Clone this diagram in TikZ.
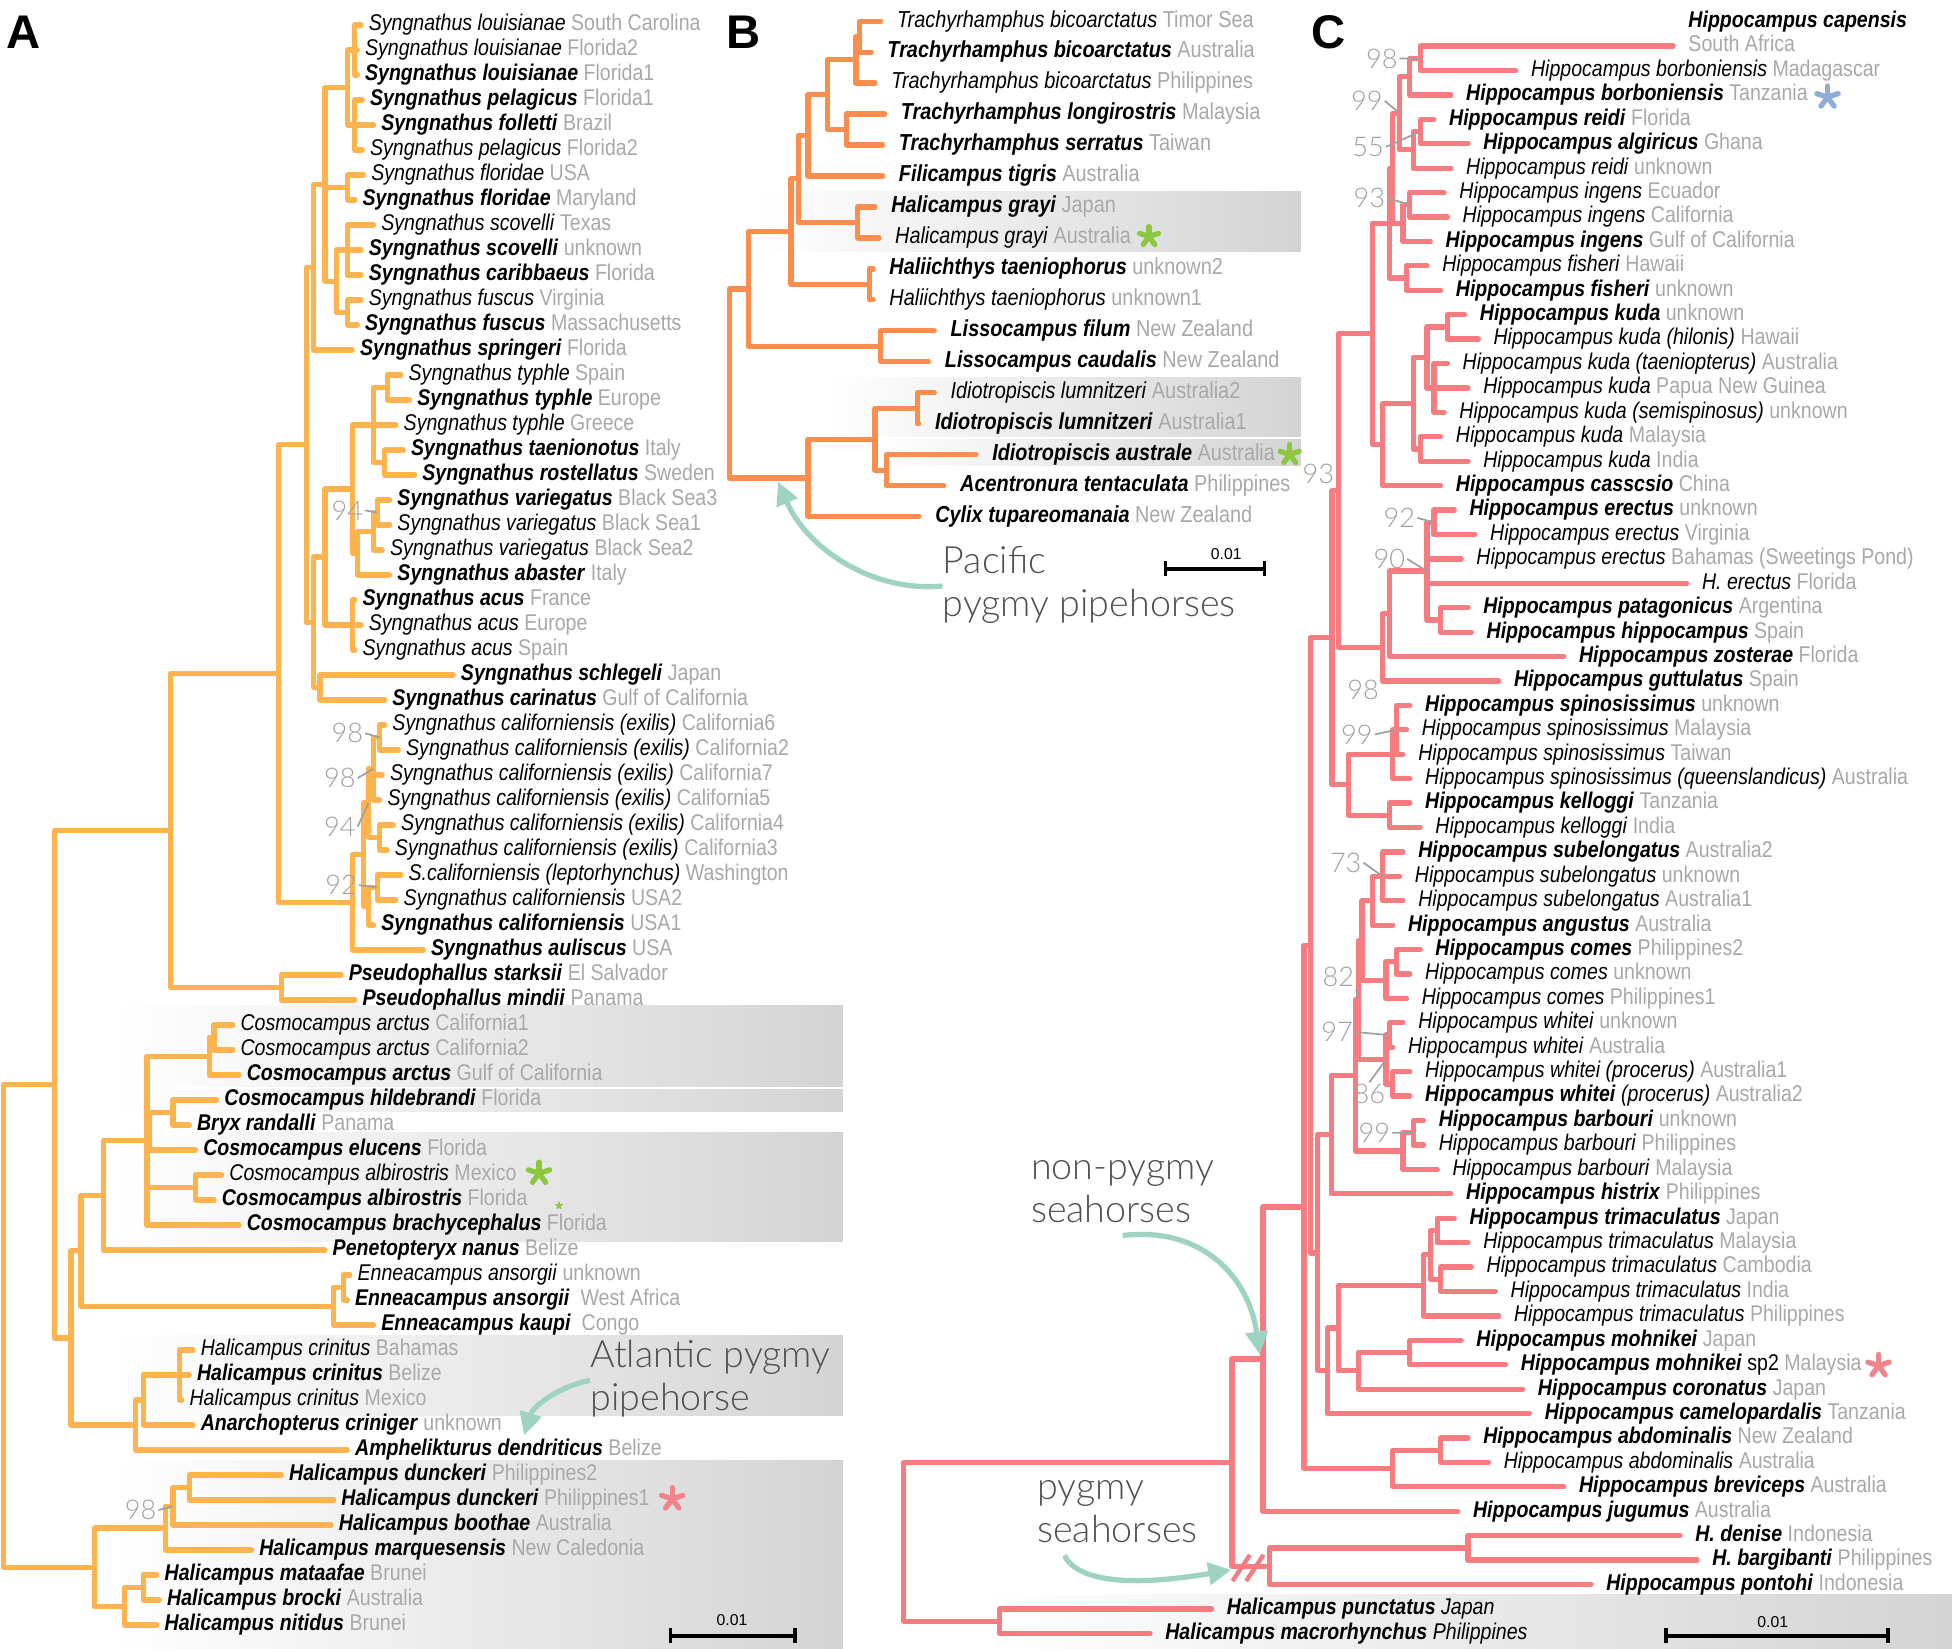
\documentclass[tikz,border=0pt]{standalone}
\usepackage{fontspec}
\setmainfont{Liberation Sans}[FakeStretch=0.86]
\IfFontExistsTF{Lato Light}{\newfontfamily\annfont{Lato Light}}{\newfontfamily\annfont{Liberation Sans}}
\newfontfamily\panelfont{Liberation Sans}
\usetikzlibrary{arrows.meta}
\definecolor{colA}{RGB}{253,180,78}
\definecolor{colB}{RGB}{249,142,78}
\definecolor{colC}{RGB}{246,124,128}
\definecolor{locgray}{RGB}{168,168,168}
\definecolor{bootgray}{RGB}{160,160,160}
\definecolor{mint}{RGB}{158,211,192}
\definecolor{anngray}{RGB}{80,80,80}
\definecolor{astGreen}{RGB}{141,198,63}
\definecolor{astPink}{RGB}{240,132,138}
\definecolor{astBlue}{RGB}{140,174,216}
\newcommand{\taxB}[2]{\textbf{\textit{#1}} \textcolor{locgray}{#2}}
\newcommand{\taxR}[2]{\textit{#1} \textcolor{locgray}{#2}}
\newcommand{\astk}[4]{\foreach \ang in {270,342,54,126,198}{\draw[#1, line width=#4, line cap=round] (#2) -- ++(\ang:#3);}}

\begin{document}
\begin{tikzpicture}[
    x=0.25mm, y=-0.25mm,
    branchA/.style={draw=colA, line width=3pt, line cap=round, line join=round},
    branchB/.style={branchA, draw=colB},
    branchC/.style={branchA, draw=colC},
    tipA/.style={anchor=west, inner sep=0pt, xshift=1.5mm, font=\fontsize{13}{14}\selectfont, text height=9.5pt, text depth=2.8pt},
    tipB/.style={tipA, xshift=1.7mm, font=\fontsize{13.2}{15}\selectfont},
    tipC/.style={tipA, xshift=1.5mm},
    band/.style={left color=white, right color=black!17},
    bootlab/.style={font=\annfont\fontsize{15.5}{15.5}\selectfont, text=bootgray, inner sep=1pt},
    boottick/.style={draw=bootgray, line width=1pt},
    annot/.style={font=\annfont\fontsize{21.5}{24.5}\selectfont, text=anngray, align=left, anchor=north west, inner sep=0pt},
    pointer/.style={draw=mint, line width=3pt, -{Triangle[length=4.6mm, width=4.4mm]}},
    scalebar/.style={line width=2pt, {Bar[width=3mm]}-{Bar[width=3mm]}},
    scalelab/.style={font=\panelfont\fontsize{9}{9}\selectfont, inner sep=0pt},
    panel/.style={font=\panelfont\bfseries\fontsize{27}{27}\selectfont, inner sep=0pt}
  ]
  \fill[white] (0,0) rectangle (1568,1324);
  \useasboundingbox (0,0) rectangle (1568,1324);

  \shade[band] (93,808) rectangle (677,873);
  \shade[band] (93,875) rectangle (677,893);
  \shade[band] (93,910) rectangle (677,997);
  \shade[band] (93,1073) rectangle (677,1137);
  \shade[band] (93,1173) rectangle (677,1324);
  \shade[band] (609,154) rectangle (1045,202);
  \shade[band] (664,303) rectangle (1045,351);
  \shade[band] (700,353) rectangle (1045,374);
  \shade[band] (790,1281) rectangle (1568,1324);

  % panel A
  \begin{scope}[y=-5.02mm]
    \foreach \i/\x/\t in {
      1/290/{\taxR{Syngnathus louisianae}{South Carolina}},
      2/287/{\taxR{Syngnathus louisianae}{Florida2}},
      3/287/{\taxB{Syngnathus louisianae}{Florida1}},
      4/291/{\taxB{Syngnathus pelagicus}{Florida1}},
      5/300/{\taxB{Syngnathus folletti}{Brazil}},
      6/291/{\taxR{Syngnathus pelagicus}{Florida2}},
      7/292/{\taxR{Syngnathus floridae}{USA}},
      8/285/{\taxB{Syngnathus floridae}{Maryland}},
      9/300/{\taxR{Syngnathus scovelli}{Texas}},
      10/290/{\taxB{Syngnathus scovelli}{unknown}},
      11/290/{\taxB{Syngnathus caribbaeus}{Florida}},
      12/290/{\taxR{Syngnathus fuscus}{Virginia}},
      13/287/{\taxB{Syngnathus fuscus}{Massachusetts}},
      14/283/{\taxB{Syngnathus springeri}{Florida}},
      15/322/{\taxR{Syngnathus typhle}{Spain}},
      16/329/{\taxB{Syngnathus typhle}{Europe}},
      17/318/{\taxR{Syngnathus typhle}{Greece}},
      18/324/{\taxB{Syngnathus taenionotus}{Italy}},
      19/333/{\taxB{Syngnathus rostellatus}{Sweden}},
      20/313/{\taxB{Syngnathus variegatus}{Black Sea3}},
      21/313/{\taxR{Syngnathus variegatus}{Black Sea1}},
      22/307/{\taxR{Syngnathus variegatus}{Black Sea2}},
      23/313/{\taxB{Syngnathus abaster}{Italy}},
      24/285/{\taxB{Syngnathus acus}{France}},
      25/290/{\taxR{Syngnathus acus}{Europe}},
      26/285/{\taxR{Syngnathus acus}{Spain}},
      27/364/{\taxB{Syngnathus schlegeli}{Japan}},
      28/309/{\taxB{Syngnathus carinatus}{Gulf of California}},
      29/309/{\taxR{Syngnathus californiensis (exilis)}{California6}},
      30/320/{\taxR{Syngnathus californiensis (exilis)}{California2}},
      31/307/{\taxR{Syngnathus californiensis (exilis)}{California7}},
      32/305/{\taxR{Syngnathus californiensis (exilis)}{California5}},
      33/316/{\taxR{Syngnathus californiensis (exilis)}{California4}},
      34/311/{\taxR{Syngnathus californiensis (exilis)}{California3}},
      35/322/{\taxR{S.californiensis (leptorhynchus)}{Washington}},
      36/318/{\taxR{Syngnathus californiensis}{USA2}},
      37/300/{\taxB{Syngnathus californiensis}{USA1}},
      38/340/{\taxB{Syngnathus auliscus}{USA}},
      39/274/{\taxB{Pseudophallus starksii}{El Salvador}},
      40/285/{\taxB{Pseudophallus mindii}{Panama}},
      41/187/{\taxR{Cosmocampus arctus}{California1}},
      42/187/{\taxR{Cosmocampus arctus}{California2}},
      43/192/{\taxB{Cosmocampus arctus}{Gulf of California}},
      44/174/{\taxB{Cosmocampus hildebrandi}{Florida}},
      45/152/{\taxB{Bryx randalli}{Panama}},
      46/157/{\taxB{Cosmocampus elucens}{Florida}},
      47/178/{\taxR{Cosmocampus albirostris}{Mexico}},
      48/172/{\taxB{Cosmocampus albirostris}{Florida}},
      49/192/{\taxB{Cosmocampus brachycephalus}{Florida}},
      50/261/{\taxB{Penetopteryx nanus}{Belize}},
      51/281/{\taxR{Enneacampus ansorgii}{unknown}},
      52/279/{\taxB{Enneacampus ansorgii}{\ West Africa}},
      53/300/{\taxB{Enneacampus kaupi}{\ Congo}},
      54/155/{\taxR{Halicampus crinitus}{Bahamas}},
      55/152/{\taxB{Halicampus crinitus}{Belize}},
      56/146/{\taxR{Halicampus crinitus}{Mexico}},
      57/155/{\taxB{Anarchopterus criniger}{unknown}},
      58/279/{\taxB{Amphelikturus dendriticus}{Belize}},
      59/226/{\taxB{Halicampus dunckeri}{Philippines2}},
      60/268/{\taxB{Halicampus dunckeri}{Philippines1}},
      61/266/{\taxB{Halicampus boothae}{Australia}},
      62/202/{\taxB{Halicampus marquesensis}{New Caledonia}},
      63/126/{\taxB{Halicampus mataafae}{Brunei}},
      64/128/{\taxB{Halicampus brocki}{Australia}},
      65/126/{\taxB{Halicampus nitidus}{Brunei}}}
    {
      \coordinate (a\i) at (\x,\i);
      \node[tipA] (la\i) at (a\i) {\t};
    }
    \foreach \n/\x/\r in {aN1/285/2, aN2/285/5, aN12/279/3.5, aN3/279/7.5, aN4a/279/10,
      aN4b/279/12.5, aN4/270/11.25, aP/261/7.375, aR/252/10.69, aTp/311/15.5, aTt/309/18.5,
      aT/300/17, aV1/303/20.5, aV2/300/21.25, aV3/287/22.125, aTV/283/19.56, aAc/283/25,
      aTVA/261/22.28, aSC/257/27.5, aSG/252/24.89, aU/246/17.79, aEx1/305/29.5,
      aEx2/300/30.75, aEx3/305/33.5, aEx4/296/32.125, aLe1/303/35.5, aLe2/296/36.25,
      aCalA/292/34.19, aCal/283/36.09, aW/224/26.94, aPs/226/39.5, aV137/137/33.22,
      aCa1/172/41.5, aCa/168/42.25, aHb/139/44.5, aCos2/120/45.25, aAlb/157/47.5,
      aCos/118/45.625, aP50/83/47.81, aEn1/276/51.5, aEn/268/52.25, aC65/65/50.03,
      aCr/144/55, aCr2/115/56, aCr3/109/57, aX/57/53.52, aV44/44/43.37, aHd/152/59.5,
      aHd2/139/60.25, aHd3/133/61.125, aHm1/115/63.5, aHm/100/64.25, aH/76/62.69,
      aRoot/3/53.03}
      \coordinate (\n) at (\x,\r);
    \foreach \p/\cs in {aN1/{a1,a2,a3}, aN2/{a4,a5,a6}, aN12/{aN1,aN2}, aN3/{a7,a8},
      aN4a/{a9,a10,a11}, aN4b/{a12,a13}, aN4/{aN4a,aN4b}, aP/{aN12,aN3,aN4}, aR/{aP,a14},
      aTp/{a15,a16}, aTt/{a18,a19}, aT/{aTp,a17,aTt}, aV1/{a20,a21}, aV2/{aV1,a22},
      aV3/{aV2,a23}, aTV/{aT,aV3}, aAc/{a24,a25,a26}, aTVA/{aTV,aAc}, aSC/{a27,a28},
      aSG/{aTVA,aSC}, aU/{aR,aSG}, aEx1/{a29,a30}, aEx2/{aEx1,a31,a32}, aEx3/{a33,a34},
      aEx4/{aEx2,aEx3}, aLe1/{a35,a36}, aLe2/{aLe1,a37}, aCalA/{aEx4,aLe2}, aCal/{aCalA,a38},
      aW/{aU,aCal}, aPs/{a39,a40}, aV137/{aW,aPs}, aCa1/{a41,a42}, aCa/{aCa1,a43},
      aHb/{a44,a45}, aCos2/{aHb,a46}, aAlb/{a47,a48}, aCos/{aCa,aCos2,aAlb,a49},
      aP50/{aCos,a50}, aEn1/{a51,a52}, aEn/{aEn1,a53}, aC65/{aP50,aEn}, aCr/{a54,a55,a56},
      aCr2/{aCr,a57}, aCr3/{aCr2,a58}, aX/{aC65,aCr3}, aV44/{aV137,aX}, aHd/{a59,a60},
      aHd2/{aHd,a61}, aHd3/{aHd2,a62}, aHm1/{a63,a64}, aHm/{aHm1,a65}, aH/{aHd3,aHm},
      aRoot/{aV44,aH}}
      {\foreach \c in \cs {\draw[branchA] (\p) |- (\c);}}
  \end{scope}

  % panel B
  \begin{scope}[y=-6.21875mm, yshift=1.97mm]
    \foreach \i/\x/\t in {
      1/707.5/{\taxR{Trachyrhamphus bicoarctatus}{Timor Sea}},
      2/699.8/{\taxB{Trachyrhamphus bicoarctatus}{Australia}},
      3/702.9/{\taxR{Trachyrhamphus bicoarctatus}{Philippines}},
      4/710.6/{\taxB{Trachyrhamphus longirostris}{Malaysia}},
      5/709/{\taxB{Trachyrhamphus serratus}{Taiwan}},
      6/709/{\taxB{Filicampus tigris}{Australia}},
      7/702.9/{\taxB{Halicampus grayi}{Japan}},
      8/706/{\taxR{Halicampus grayi}{Australia}},
      9/701.4/{\taxB{Haliichthys taeniophorus}{unknown2}},
      10/701.4/{\taxR{Haliichthys taeniophorus}{unknown1}},
      11/750.5/{\taxB{Lissocampus filum}{New Zealand}},
      12/745.9/{\taxB{Lissocampus caudalis}{New Zealand}},
      13/750.5/{\taxR{Idiotropiscis lumnitzeri}{Australia2}},
      14/738/{\taxB{Idiotropiscis lumnitzeri}{Australia1}},
      15/784/{\taxB{Idiotropiscis australe}{Australia}},
      16/758.2/{\taxB{Acentronura tentaculata}{Philippines}},
      17/738.2/{\taxB{Cylix tupareomanaia}{New Zealand}}}
    {
      \coordinate (b\i) at (\x,\i);
      \node[tipB] (lb\i) at (b\i) {\t};
    }
    \foreach \n/\x/\r in {bB1a/690.6/1.5, bB1/687.5/2.25, bB2/679.8/4.5, bB12/664.5/3.375,
      bB123/649.1/4.69, bGr/689/7.5, bB4/641.4/6.09, bHa/698.3/9.5, bB5/635.3/7.80,
      bLi/707.5/11.5, bB6/601.5/9.65, bI1/736.7/13.5, bI2/712.1/15.5, bI3/702.9/14.5,
      bI4/649.1/15.75, bRoot/586/12.7}
      \coordinate (\n) at (\x,\r);
    \foreach \p/\cs in {bB1a/{b1,b2}, bB1/{bB1a,b3}, bB2/{b4,b5}, bB12/{bB1,bB2},
      bB123/{bB12,b6}, bGr/{b7,b8}, bB4/{bB123,bGr}, bHa/{b9,b10}, bB5/{bB4,bHa},
      bLi/{b11,b12}, bB6/{bB5,bLi}, bI1/{b13,b14}, bI2/{b15,b16}, bI3/{bI1,bI2},
      bI4/{bI3,b17}, bRoot/{bB6,bI4}}
      {\foreach \c in \cs {\draw[branchB] (\p) |- (\c);}}
  \end{scope}

  % panel C
  \begin{scope}[y=-4.90375mm, yshift=-4.35mm]
    \node[tipC] (lc0) at (1344,0) {\textbf{\textit{Hippocampus capensis}}};
    \foreach \i/\x/\t in {
      1/1344/{\textcolor{locgray}{South Africa}},
      2/1217.6/{\taxR{Hippocampus borboniensis}{Madagascar}},
      3/1165.5/{\taxB{Hippocampus borboniensis}{Tanzania}},
      4/1151.8/{\taxB{Hippocampus reidi}{Florida}},
      5/1179.2/{\taxB{Hippocampus algiricus}{Ghana}},
      6/1165.5/{\taxR{Hippocampus reidi}{unknown}},
      7/1160/{\taxR{Hippocampus ingens}{Ecuador}},
      8/1162.7/{\taxR{Hippocampus ingens}{California}},
      9/1149/{\taxB{Hippocampus ingens}{Gulf of California}},
      10/1146.3/{\taxR{Hippocampus fisheri}{Hawaii}},
      11/1157.2/{\taxB{Hippocampus fisheri}{unknown}},
      12/1176.5/{\taxB{Hippocampus kuda}{unknown}},
      13/1187.5/{\taxR{Hippocampus kuda (hilonis)}{Hawaii}},
      14/1162.7/{\taxR{Hippocampus kuda (taeniopterus)}{Australia}},
      15/1179.2/{\taxR{Hippocampus kuda}{Papua New Guinea}},
      16/1160/{\taxR{Hippocampus kuda (semispinosus)}{unknown}},
      17/1157.2/{\taxR{Hippocampus kuda}{Malaysia}},
      18/1179.2/{\taxR{Hippocampus kuda}{India}},
      19/1157.2/{\taxB{Hippocampus casscsio}{China}},
      20/1168.2/{\taxB{Hippocampus erectus}{unknown}},
      21/1184.7/{\taxR{Hippocampus erectus}{Virginia}},
      22/1173.7/{\taxR{Hippocampus erectus}{Bahamas (Sweetings Pond)}},
      23/1354.9/{\taxR{H. erectus}{Florida}},
      24/1179.2/{\taxB{Hippocampus patagonicus}{Argentina}},
      25/1181.9/{\taxB{Hippocampus hippocampus}{Spain}},
      26/1256.1/{\taxB{Hippocampus zosterae}{Florida}},
      27/1203.9/{\taxB{Hippocampus guttulatus}{Spain}},
      28/1132.5/{\taxB{Hippocampus spinosissimus}{unknown}},
      29/1129.8/{\taxR{Hippocampus spinosissimus}{Malaysia}},
      30/1127/{\taxR{Hippocampus spinosissimus}{Taiwan}},
      31/1132.5/{\taxR{Hippocampus spinosissimus (queenslandicus)}{Australia}},
      32/1132.5/{\taxB{Hippocampus kelloggi}{Tanzania}},
      33/1140.8/{\taxR{Hippocampus kelloggi}{India}},
      34/1127/{\taxB{Hippocampus subelongatus}{Australia2}},
      35/1124.3/{\taxR{Hippocampus subelongatus}{unknown}},
      36/1127/{\taxR{Hippocampus subelongatus}{Australia1}},
      37/1118.8/{\taxB{Hippocampus angustus}{Australia}},
      38/1140.8/{\taxB{Hippocampus comes}{Philippines2}},
      39/1132.5/{\taxR{Hippocampus comes}{unknown}},
      40/1129.8/{\taxR{Hippocampus comes}{Philippines1}},
      41/1127/{\taxR{Hippocampus whitei}{unknown}},
      42/1118.8/{\taxR{Hippocampus whitei}{Australia}},
      43/1132.5/{\taxR{Hippocampus whitei (procerus)}{Australia1}},
      44/1132.5/{\textbf{\textit{Hippocampus whitei}} \textit{(procerus)} \textcolor{locgray}{Australia2}},
      45/1143.5/{\taxB{Hippocampus barbouri}{unknown}},
      46/1143.5/{\taxR{Hippocampus barbouri}{Philippines}},
      47/1154.5/{\taxR{Hippocampus barbouri}{Malaysia}},
      48/1165.5/{\taxB{Hippocampus histrix}{Philippines}},
      49/1168.2/{\taxB{Hippocampus trimaculatus}{Japan}},
      50/1179.2/{\taxR{Hippocampus trimaculatus}{Malaysia}},
      51/1181.9/{\taxR{Hippocampus trimaculatus}{Cambodia}},
      52/1201.2/{\taxR{Hippocampus trimaculatus}{India}},
      53/1203.9/{\taxR{Hippocampus trimaculatus}{Philippines}},
      54/1173.7/{\taxB{Hippocampus mohnikei}{Japan}},
      55/1209.4/{\textbf{\textit{Hippocampus mohnikei}} sp2 \textcolor{locgray}{Malaysia}},
      56/1223.1/{\taxB{Hippocampus coronatus}{Japan}},
      57/1228.6/{\taxB{Hippocampus camelopardalis}{Tanzania}},
      58/1179.2/{\taxB{Hippocampus abdominalis}{New Zealand}},
      59/1195.7/{\taxR{Hippocampus abdominalis}{Australia}},
      60/1256.1/{\taxB{Hippocampus breviceps}{Australia}},
      61/1171/{\taxB{Hippocampus jugumus}{Australia}},
      62/1349.5/{\taxB{H. denise}{Indonesia}},
      63/1363.2/{\taxB{H. bargibanti}{Philippines}},
      64/1278/{\taxB{Hippocampus pontohi}{Indonesia}},
      65/973.3/{\textbf{\textit{Halicampus punctatus}} \textit{Japan}},
      66/923.8/{\textbf{\textit{Halicampus macrorhynchus}} \textit{Philippines}}}
    {
      \coordinate (c\i) at (\x,\i);
      \node[tipC] (lc\i) at (c\i) {\t};
    }
    \foreach \n/\x/\r in {cC1/1140.8/1.5, cC2/1132.5/2.25, cR1/1140.8/4.5, cR2/1135.3/5.25,
      cC3/1124.3/3.75, cI1/1132.5/7.5, cI2/1127/8.25, cC4/1118.8/6, cF/1129.8/10.5,
      cC5/1116/8.25, cK1/1162.7/12.5, cK2/1151.8/15, cK12/1146.3/13.75, cK3/1140.8/17.5,
      cK4/1135.3/15.625, cK5/1110.6/17.31, cC6/1102.3/12.78, cE1/1151.8/20.5,
      cPa/1157.2/24.5, cE2/1146.3/22.5, cE3/1116/24.25, cE4/1110.6/25.625,
      cC6p/1074.9/19.2, cSp1/1121.5/29, cSp/1118.8/30, cKe/1116/32.5, cSK/1083.1/31.25,
      cC7/1070/25.23, cSu1/1110.6/35, cSu2/1102.3/36, cCo1/1121.5/38.5, cCo2/1113.3/39.25,
      cMA/1094/37.625, cWh1/1116/41.5, cWh2/1118.8/43.5, cWh/1113.3/42.5, cMt/1091.3/40.06,
      cBa1/1135.3/45.5, cBa/1127/46.25, cM/1088.6/43.16, cHM/1069.4/45.58, cT1/1154.5/49.5,
      cT2/1157.2/51.5, cT12/1149/50.5, cT/1143.5/51.75, cMo/1132.5/54.5, cMo2/1091.3/55.25,
      cTM/1074.9/53.5, cTMC/1066.6/55.25, cC9/1058.4/50.42, cC8/1052.9/37.82,
      cAb1/1157.2/58.5, cAb/1118.8/59.25, cC10/1047.4/48.54, cC11/1014.5/54.77,
      cPy1/1179.2/62.5, cPy/1020/63.25, cC12/989.7/59.01, cHp/803/65.5, cRoot/726/62.26}
      \coordinate (\n) at (\x,\r);
    \foreach \p/\cs in {cC1/{c1,c2}, cC2/{cC1,c3}, cR1/{c4,c5}, cR2/{cR1,c6}, cC3/{cC2,cR2},
      cI1/{c7,c8}, cI2/{cI1,c9}, cC4/{cC3,cI2}, cF/{c10,c11}, cC5/{cC4,cF}, cK1/{c12,c13},
      cK2/{c14,c15,c16}, cK12/{cK1,cK2}, cK3/{c17,c18}, cK4/{cK12,cK3}, cK5/{cK4,c19},
      cC6/{cC5,cK5}, cE1/{c20,c21}, cPa/{c24,c25}, cE2/{cE1,c22,c23,cPa}, cE3/{cE2,c26},
      cE4/{cE3,c27}, cC6p/{cC6,cE4}, cSp1/{c28,c29,c30}, cSp/{cSp1,c31}, cKe/{c32,c33},
      cSK/{cSp,cKe}, cC7/{cC6p,cSK}, cSu1/{c34,c35,c36}, cSu2/{cSu1,c37}, cCo1/{c38,c39},
      cCo2/{cCo1,c40}, cMA/{cSu2,cCo2}, cWh1/{c41,c42}, cWh2/{c43,c44}, cWh/{cWh1,cWh2},
      cMt/{cMA,cWh}, cBa1/{c45,c46}, cBa/{cBa1,c47}, cM/{cMt,cBa}, cHM/{cM,c48},
      cT1/{c49,c50}, cT2/{c51,c52}, cT12/{cT1,cT2}, cT/{cT12,c53}, cMo/{c54,c55},
      cMo2/{cMo,c56}, cTM/{cT,cMo2}, cTMC/{cTM,c57}, cC9/{cHM,cTMC}, cC8/{cC7,cC9},
      cAb1/{c58,c59}, cAb/{cAb1,c60}, cC10/{cC8,cAb}, cC11/{cC10,c61}, cPy1/{c62,c63},
      cPy/{cPy1,c64}, cC12/{cC11,cPy}, cHp/{c65,c66}, cRoot/{cC12,cHp}}
      {\foreach \c in \cs {\draw[branchC] (\p) |- (\c);}}
  \end{scope}
  \draw[colC, line width=2.5pt] (990,1270) -- (1004,1249);
  \draw[colC, line width=2.5pt] (1001,1270) -- (1015,1249);

  % support values
  \node[bootlab] (bsA1) at (279,410) {94};  \draw[boottick] (bsA1.east) -- (aV1);
  \node[bootlab] (bsA2) at (279,589) {98};  \draw[boottick] (bsA2.east) -- (aEx1);
  \node[bootlab] (bsA3) at (273,625) {98};  \draw[boottick] (bsA3.east) -- (aEx2);
  \node[bootlab] (bsA4) at (273,664) {94};  \draw[boottick] (bsA4.east) -- (aEx4);
  \node[bootlab] (bsA5) at (274,711) {92};  \draw[boottick] (bsA5.east) -- (aLe1);
  \node[bootlab] (bsA6) at (113,1213) {98}; \draw[boottick] (bsA6.east) -- (aHd2);
  \node[bootlab] (bsC1) at (1110,47) {98};  \draw[boottick] (bsC1.east) -- (cC1);
  \node[bootlab] (bsC2) at (1098,81) {99};  \draw[boottick] (bsC2.east) -- (cC3);
  \node[bootlab] (bsC3) at (1099,118) {55}; \draw[boottick] (bsC3.east) -- (cR1);
  \node[bootlab] (bsC4) at (1100,159) {93}; \draw[boottick] (bsC4.east) -- (cI1);
  \node[bootlab] (bsC5) at (1059,381) {93};
  \node[bootlab] (bsC6) at (1124,416) {92}; \draw[boottick] (bsC6.east) -- (cE1);
  \node[bootlab] (bsC7) at (1116,449) {90}; \draw[boottick] (bsC7.east) -- (cE2);
  \node[bootlab] (bsC8) at (1095,554) {98};
  \node[bootlab] (bsC9) at (1090,590) {99}; \draw[boottick] (bsC9.east) -- (cSp1);
  \node[bootlab] (bsC10) at (1081,693) {73}; \draw[boottick] (bsC10.east) -- (cSu1);
  \node[bootlab] (bsC11) at (1075,785) {82}; \draw[boottick] (bsC11.south east) -- (cMt);
  \node[bootlab] (bsC12) at (1074,829) {97}; \draw[boottick] (bsC12.east) -- (cWh1);
  \node[bootlab] (bsC13) at (1100,879) {86}; \draw[boottick] (bsC13.north) -- (cWh);
  \node[bootlab] (bsC14) at (1104,910) {99}; \draw[boottick] (bsC14.east) -- (cBa1);

  % markers
  \astk{astGreen}{433,942.5}{9}{3pt}
  \astk{astGreen}{449,968.5}{2.5}{1pt}
  \astk{astPink}{540,1204}{9}{3pt}
  \astk{astGreen}{923,190}{8}{3pt}
  \astk{astGreen}{1036,365}{8}{3pt}
  \astk{astBlue}{1468,78}{9}{3pt}
  \astk{astPink}{1509,1097}{9}{3pt}

  % callouts
  \node[annot] (pac) at (757,436) {\strut Pacific\\\strut pygmy pipehorses};
  \node[annot] (atl) at (474,1074) {\strut Atlantic pygmy\\\strut pipehorse};
  \node[annot] (nps) at (828,923) {\strut non-pygmy\\\strut seahorses};
  \node[annot] (pys) at (833,1180) {\strut pygmy\\\strut seahorses};
  \coordinate (pacTip) at (625,387);
  \coordinate (atlTip) at (421,1153);
  \coordinate (npsTip) at (1012,1088);
  \coordinate (pysTip) at (989,1261);
  \draw[pointer] (pac.west) .. controls (700,476) and (648,440) .. (pacTip);
  \draw[pointer] (atl.west) .. controls (448,1114) and (428,1130) .. (atlTip);
  \draw[pointer] (nps.south) .. controls (965,985) and (1003,1025) .. (npsTip);
  \draw[pointer] ([xshift=5.5mm]pys.south west) .. controls (868,1275) and (925,1272) .. (pysTip);

  % scale bars
  \draw[scalebar] (537,1314) -- (640,1314);
  \node[scalelab] (sbA) at (588,1301) {0.01};
  \draw[scalebar] (935,457) -- (1017,457);
  \node[scalelab] (sbB) at (985,445) {0.01};
  \draw[scalebar] (1337,1314) -- (1518,1314);
  \node[scalelab] (sbC) at (1424,1303) {0.01};

  \node[panel] (pA) at (19,26) {A};
  \node[panel] (pB) at (597,26) {B};
  \node[panel] (pC) at (1067,26) {C};
\end{tikzpicture}
\end{document}
